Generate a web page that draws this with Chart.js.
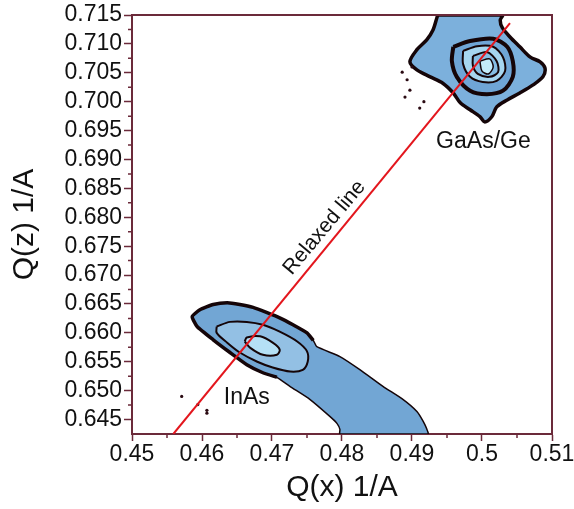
<!DOCTYPE html>
<html>
<head>
<meta charset="utf-8">
<script src="https://cdn.jsdelivr.net/npm/chart.js@4.4.1/dist/chart.umd.min.js"></script>
<style>
  html, body { margin: 0; padding: 0; background: #fff; }
  #wrap { width: 574px; height: 509px; }
</style>
</head>
<body>
<div id="wrap"><canvas id="rsm"></canvas></div>
<script>
// axis ticks
const xTicks = [0.45, 0.46, 0.47, 0.48, 0.49, 0.50, 0.51];
const xTickLabels = ['0.45', '0.46', '0.47', '0.48', '0.49', '0.5', '0.51'];
const xMinor = [0.455, 0.465, 0.475, 0.485, 0.495, 0.505];
const yTicks = [0.645, 0.650, 0.655, 0.660, 0.665, 0.670, 0.675, 0.680,
                0.685, 0.690, 0.695, 0.700, 0.705, 0.710, 0.715];
const yTickLabels = ['0.645', '0.650', '0.655', '0.660', '0.665', '0.670', '0.675', '0.680',
                     '0.685', '0.690', '0.695', '0.700', '0.705', '0.710', '0.715'];
const yMinor = [0.6475, 0.6525, 0.6575, 0.6625, 0.6675, 0.6725, 0.6775,
                0.6825, 0.6875, 0.6925, 0.6975, 0.7025, 0.7075, 0.7125];

// relaxed line end points [Qx, Qz]
const relaxedLine = [[0.4559, 0.6425], [0.5040, 0.7136]];

// InAs peak contours [Qx, Qz]
const inasOuter = [
  [0.4586, 0.6628], [0.4597, 0.6640], [0.4616, 0.6649], [0.4636, 0.6652], [0.4654, 0.6649],
  [0.4673, 0.6644], [0.4693, 0.6635], [0.4711, 0.6626], [0.4730, 0.6614], [0.4750, 0.6600],
  [0.4759, 0.6587], [0.4764, 0.6576], [0.4797, 0.6559], [0.4826, 0.6536], [0.4859, 0.6507],
  [0.4887, 0.6485], [0.4907, 0.6464], [0.4916, 0.6447], [0.4921, 0.6434], [0.4923, 0.6425],
  [0.4797, 0.6425], [0.4797, 0.6433], [0.4793, 0.6443], [0.4783, 0.6455], [0.4754, 0.6485],
  [0.4726, 0.6507], [0.4707, 0.6523], [0.4687, 0.6531], [0.4664, 0.6545], [0.4640, 0.6566],
  [0.4616, 0.6588], [0.4593, 0.6611], [0.4586, 0.6628]
];
const inasMiddle = [
  [0.4621, 0.6611], [0.4640, 0.6619], [0.4664, 0.6619], [0.4687, 0.6614], [0.4711, 0.6602],
  [0.4736, 0.6585], [0.4750, 0.6568], [0.4751, 0.6550], [0.4744, 0.6536], [0.4726, 0.6533],
  [0.4701, 0.6540], [0.4679, 0.6550], [0.4654, 0.6566], [0.4636, 0.6583], [0.4621, 0.6600],
  [0.4621, 0.6611]
];
const inasInner = [
  [0.4661, 0.6585], [0.4664, 0.6592], [0.4683, 0.6594], [0.4701, 0.6583], [0.4711, 0.6571],
  [0.4707, 0.6562], [0.4687, 0.6562], [0.4669, 0.6574], [0.4661, 0.6585]
];

// GaAs/Ge peak contours [Qx, Qz]
const gaasOuter = [
  [0.4937, 0.7150], [0.4936, 0.7147], [0.4930, 0.7124], [0.4921, 0.7107], [0.4907, 0.7090],
  [0.4897, 0.7069], [0.4907, 0.7055], [0.4926, 0.7043], [0.4944, 0.7032], [0.4959, 0.7015],
  [0.4969, 0.6998], [0.4983, 0.6986], [0.4997, 0.6974], [0.5004, 0.6965], [0.5014, 0.6974],
  [0.5021, 0.6991], [0.5036, 0.7003], [0.5054, 0.7015], [0.5073, 0.7029], [0.5087, 0.7043],
  [0.5090, 0.7058], [0.5083, 0.7069], [0.5069, 0.7077], [0.5054, 0.7095], [0.5040, 0.7112],
  [0.5029, 0.7128], [0.5026, 0.7141], [0.5029, 0.7150], [0.4937, 0.7150]
];
const gaasRing2 = [
  [0.4959, 0.7095], [0.4983, 0.7105], [0.5016, 0.7109], [0.5036, 0.7095], [0.5044, 0.7070],
  [0.5044, 0.7043], [0.5030, 0.7019], [0.5007, 0.7013], [0.4983, 0.7019], [0.4964, 0.7043],
  [0.4957, 0.7070], [0.4959, 0.7095]
];
const gaasRing3 = [
  [0.4973, 0.7088], [0.4993, 0.7096], [0.5016, 0.7095], [0.5030, 0.7077], [0.5033, 0.7053],
  [0.5021, 0.7036], [0.5001, 0.7034], [0.4983, 0.7043], [0.4973, 0.7065], [0.4973, 0.7088]
];
const gaasRing4 = [
  [0.4987, 0.7079], [0.5007, 0.7086], [0.5021, 0.7070], [0.5023, 0.7051], [0.5011, 0.7043],
  [0.4994, 0.7048], [0.4987, 0.7062], [0.4987, 0.7079]
];
const gaasRing5 = [
  [0.4997, 0.7070], [0.5011, 0.7074], [0.5016, 0.7060], [0.5009, 0.7048], [0.5000, 0.7053],
  [0.4997, 0.7070]
];

// isolated counts
const specks = [
  [0.4571, 0.6490], [0.4594, 0.6476], [0.4607, 0.6466], [0.4607, 0.6461],
  [0.4886, 0.7051], [0.4893, 0.7038], [0.4897, 0.7020], [0.4890, 0.7008], [0.4911, 0.6989],
  [0.4900, 0.7060], [0.4917, 0.7000]
];

const FONT = "'Liberation Sans', Arial, sans-serif";
const AXIS = '#6b2a3a';
const EDGE = '#150508';

const pts = arr => arr.map(p => ({x: p[0], y: p[1]}));

function contour(data, fillColor, width, order, tension) {
  return {
    data: pts(data),
    borderColor: EDGE,
    borderWidth: width,
    backgroundColor: fillColor,
    fill: fillColor ? 'shape' : false,
    tension: tension === undefined ? 0.3 : tension,
    pointRadius: 0,
    order: order
  };
}

// the noisy outer edge of the InAs head (lower side, tip, upper side)
const inasHeadEdge = inasOuter.slice(26).concat(inasOuter.slice(1, 11));

const notes = [
  {text: 'InAs', x: 0.4664, y: 0.6488, angle: 0, size: 23},
  {text: 'GaAs/Ge', x: 0.5002, y: 0.6931, angle: 0, size: 23},
  {text: 'Relaxed line', x: 0.4775, y: 0.6782, angle: -50, size: 21}
];

const decor = {
  id: 'decor',
  afterDatasetsDraw(chart) {
    const {ctx, scales: {x, y}} = chart;
    ctx.save();
    ctx.fillStyle = '#111';
    ctx.textAlign = 'center';
    ctx.textBaseline = 'middle';
    notes.forEach(n => {
      ctx.save();
      ctx.translate(x.getPixelForValue(n.x), y.getPixelForValue(n.y));
      ctx.rotate(n.angle * Math.PI / 180);
      ctx.font = n.size + 'px ' + FONT;
      ctx.fillText(n.text, 0, 0);
      ctx.restore();
    });
    ctx.restore();
  },
  afterDraw(chart) {
    const {ctx, chartArea: a, scales: {x, y}} = chart;
    ctx.save();
    ctx.strokeStyle = AXIS;
    ctx.lineWidth = 2;
    ctx.beginPath();
    ctx.moveTo(a.left, a.top);
    ctx.lineTo(a.right, a.top);
    ctx.lineTo(a.right, a.bottom);
    ctx.stroke();
    ctx.lineWidth = 1.5;
    ctx.beginPath();
    xMinor.forEach(v => {
      const px = x.getPixelForValue(v);
      ctx.moveTo(px, a.bottom);
      ctx.lineTo(px, a.bottom + 4);
    });
    yMinor.forEach(v => {
      const py = y.getPixelForValue(v);
      ctx.moveTo(a.left, py);
      ctx.lineTo(a.left - 4, py);
    });
    ctx.stroke();
    ctx.restore();
  }
};

new Chart(document.getElementById('rsm'), {
  type: 'line',
  data: {
    datasets: [
      {
        data: pts(relaxedLine),
        borderColor: '#e3161d',
        borderWidth: 2,
        pointRadius: 0,
        fill: false,
        order: 0
      },
      {
        data: pts(specks),
        showLine: false,
        pointRadius: 1.6,
        pointBorderWidth: 0,
        pointBackgroundColor: '#2a0a12',
        order: 1
      },
      contour(gaasRing5, '#c4ecfa', 1.5, 2),
      contour(gaasRing4, '#86bde3', 2, 3),
      contour(gaasRing3, '#a6d6f0', 2, 4),
      contour(gaasRing2, '#6fa5d6', 4, 5),
      contour(gaasOuter, '#7cb0dc', 3.5, 6),
      contour(inasInner, '#b5e0f6', 2, 7),
      contour(inasMiddle, '#93c0e4', 2, 8),
      contour(inasHeadEdge, null, 3.5, 9, 0.15),
      contour(inasOuter, '#72a6d4', 1.5, 10, 0.15)
    ]
  },
  options: {
    responsive: true,
    maintainAspectRatio: false,
    animation: false,
    layout: { padding: { left: 0, right: 22, top: 15, bottom: 0 } },
    plugins: {
      legend: { display: false },
      tooltip: { enabled: false }
    },
    scales: {
      x: {
        type: 'linear',
        min: 0.45,
        max: 0.51,
        afterBuildTicks: s => { s.ticks = xTicks.map(v => ({value: v})); },
        afterFit: s => { s.height = 75; s.paddingLeft = 0; s.paddingRight = 0; },
        ticks: {
          callback: (v, i) => xTickLabels[i],
          font: { size: 23, family: FONT },
          color: '#111',
          padding: 0,
          maxRotation: 0,
          autoSkip: false
        },
        grid: { drawOnChartArea: false, tickLength: 7, tickColor: AXIS, tickWidth: 1.5 },
        border: { color: AXIS, width: 2 },
        title: {
          display: true,
          text: 'Q(x) 1/A',
          font: { size: 30, family: FONT },
          color: '#111',
          padding: { top: 0, bottom: 3 }
        }
      },
      y: {
        type: 'linear',
        min: 0.6425,
        max: 0.715,
        afterBuildTicks: s => { s.ticks = yTicks.map(v => ({value: v})); },
        afterFit: s => { s.width = 132; s.paddingTop = 0; s.paddingBottom = 0; },
        ticks: {
          callback: (v, i) => yTickLabels[i],
          font: { size: 23, family: FONT },
          color: '#111',
          padding: 2,
          autoSkip: false
        },
        grid: { drawOnChartArea: false, tickLength: 8, tickColor: AXIS, tickWidth: 1.5 },
        border: { color: AXIS, width: 2 },
        title: {
          display: true,
          text: 'Q(z) 1/A',
          font: { size: 30, family: FONT },
          color: '#111',
          padding: { top: 7, bottom: 0 }
        }
      }
    }
  },
  plugins: [decor]
});
</script>
</body>
</html>
